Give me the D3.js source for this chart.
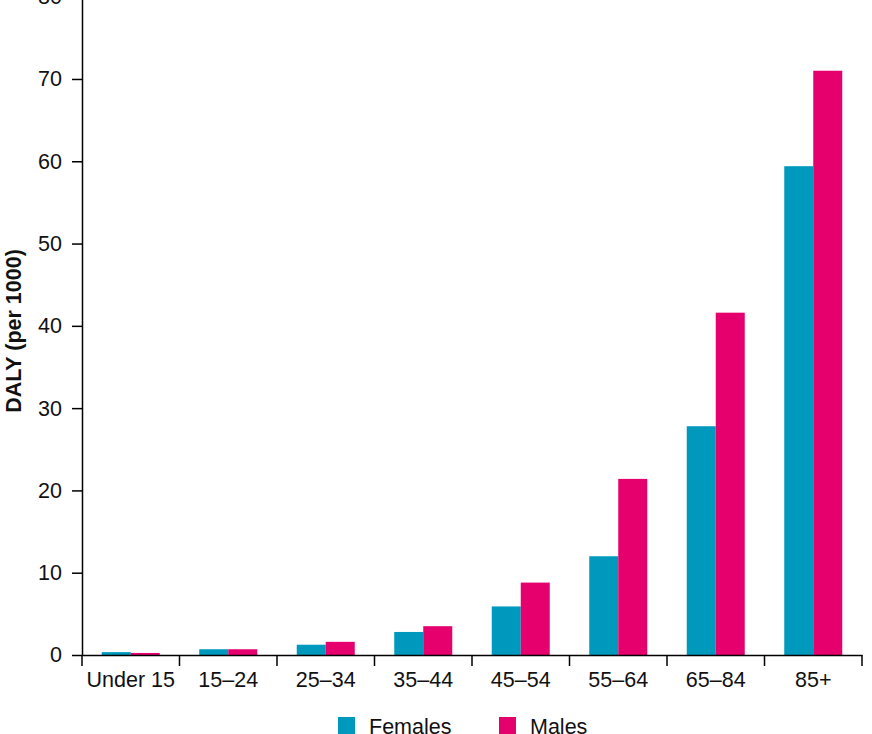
<!DOCTYPE html>
<html>
<head>
<meta charset="utf-8">
<script src="https://cdn.jsdelivr.net/npm/d3@7"></script>
<style>
  body { margin: 0; background: #fff; }
  text { font-family: "Liberation Sans", Arial, Helvetica, sans-serif; }
</style>
</head>
<body>
<svg id="chart" width="872" height="734"></svg>
<script>
const ageGroups = ["Under 15", "15\u201324", "25\u201334", "35\u201344", "45\u201354", "55\u201364", "65\u201384", "85+"];
const females = [0.35, 0.7, 1.25, 2.8, 5.9, 12.0, 27.8, 59.4];
const males = [0.25, 0.7, 1.6, 3.5, 8.8, 21.4, 41.6, 71.0];
const seriesNames = ["Females", "Males"];
const yTicks = [0, 10, 20, 30, 40, 50, 60, 70, 80];

const colors = { Females: "#0099be", Males: "#e6006e" };
const fontSize = 21.5;

const svg = d3.select("#chart");
const baseY = 655;

const x = d3.scaleBand().domain(ageGroups).range([82, 862]);
const y = d3.scaleLinear().domain([0, 80]).range([baseY, baseY - 80 * 8.229]);

const inner = d3.scaleBand().domain(seriesNames).range([0, 58]);
const barOffset = (x.bandwidth() - 58) / 2;

const rows = ageGroups.map((g, i) => ({ group: g, Females: females[i], Males: males[i] }));

// bars
const groups = svg.append("g").selectAll("g")
  .data(rows)
  .enter()
  .append("g")
  .attr("transform", d => `translate(${x(d.group) + barOffset},0)`);

groups.selectAll("rect")
  .data(d => seriesNames.map(s => ({ s, v: d[s] })))
  .enter()
  .append("rect")
  .attr("x", d => inner(d.s))
  .attr("width", inner.bandwidth())
  .attr("y", d => y(d.v))
  .attr("height", d => baseY - y(d.v))
  .attr("fill", d => colors[d.s]);

// y axis
const yAxis = svg.append("g")
  .attr("transform", "translate(82,0)")
  .call(d3.axisLeft(y).tickValues(yTicks).tickSize(10).tickPadding(10).tickSizeOuter(0));
yAxis.select(".domain").attr("stroke", "#000").attr("stroke-width", 1.5);
yAxis.selectAll(".tick line").attr("stroke", "#000").attr("stroke-width", 1.5);
yAxis.selectAll(".tick text").attr("font-size", fontSize).attr("fill", "#111")
  .attr("font-family", "'Liberation Sans', Arial, sans-serif");

// x axis
const xAxis = svg.append("g")
  .attr("transform", `translate(0,${baseY})`)
  .call(d3.axisBottom(x).tickSize(0).tickPadding(17).tickSizeOuter(0));
xAxis.select(".domain").attr("stroke", "#000").attr("stroke-width", 1.5);
xAxis.selectAll(".tick text").attr("font-size", fontSize).attr("fill", "#111")
  .attr("font-family", "'Liberation Sans', Arial, sans-serif");

// boundary ticks between groups
const bounds = ageGroups.map(g => x(g)).concat([x(ageGroups[ageGroups.length - 1]) + x.bandwidth()]);
svg.append("g").selectAll("line")
  .data(bounds)
  .enter()
  .append("line")
  .attr("x1", d => d).attr("x2", d => d)
  .attr("y1", baseY).attr("y2", baseY + 11)
  .attr("stroke", "#000").attr("stroke-width", 1.5);

// y label
svg.append("text")
  .attr("transform", "translate(20.5,331) rotate(-90)")
  .attr("text-anchor", "middle")
  .attr("font-size", fontSize)
  .attr("font-weight", "bold")
  .attr("fill", "#111")
  .text("DALY (per 1000)");

// legend
const legendX = [338, 499];
const legend = svg.append("g").selectAll("g")
  .data(seriesNames)
  .enter()
  .append("g")
  .attr("transform", (d, i) => `translate(${legendX[i]},717)`);
legend.append("rect").attr("width", 17).attr("height", 17).attr("fill", d => colors[d]);
legend.append("text").attr("x", 31).attr("y", 16.5).attr("font-size", fontSize).attr("fill", "#111").text(d => d);
</script>
</body>
</html>
